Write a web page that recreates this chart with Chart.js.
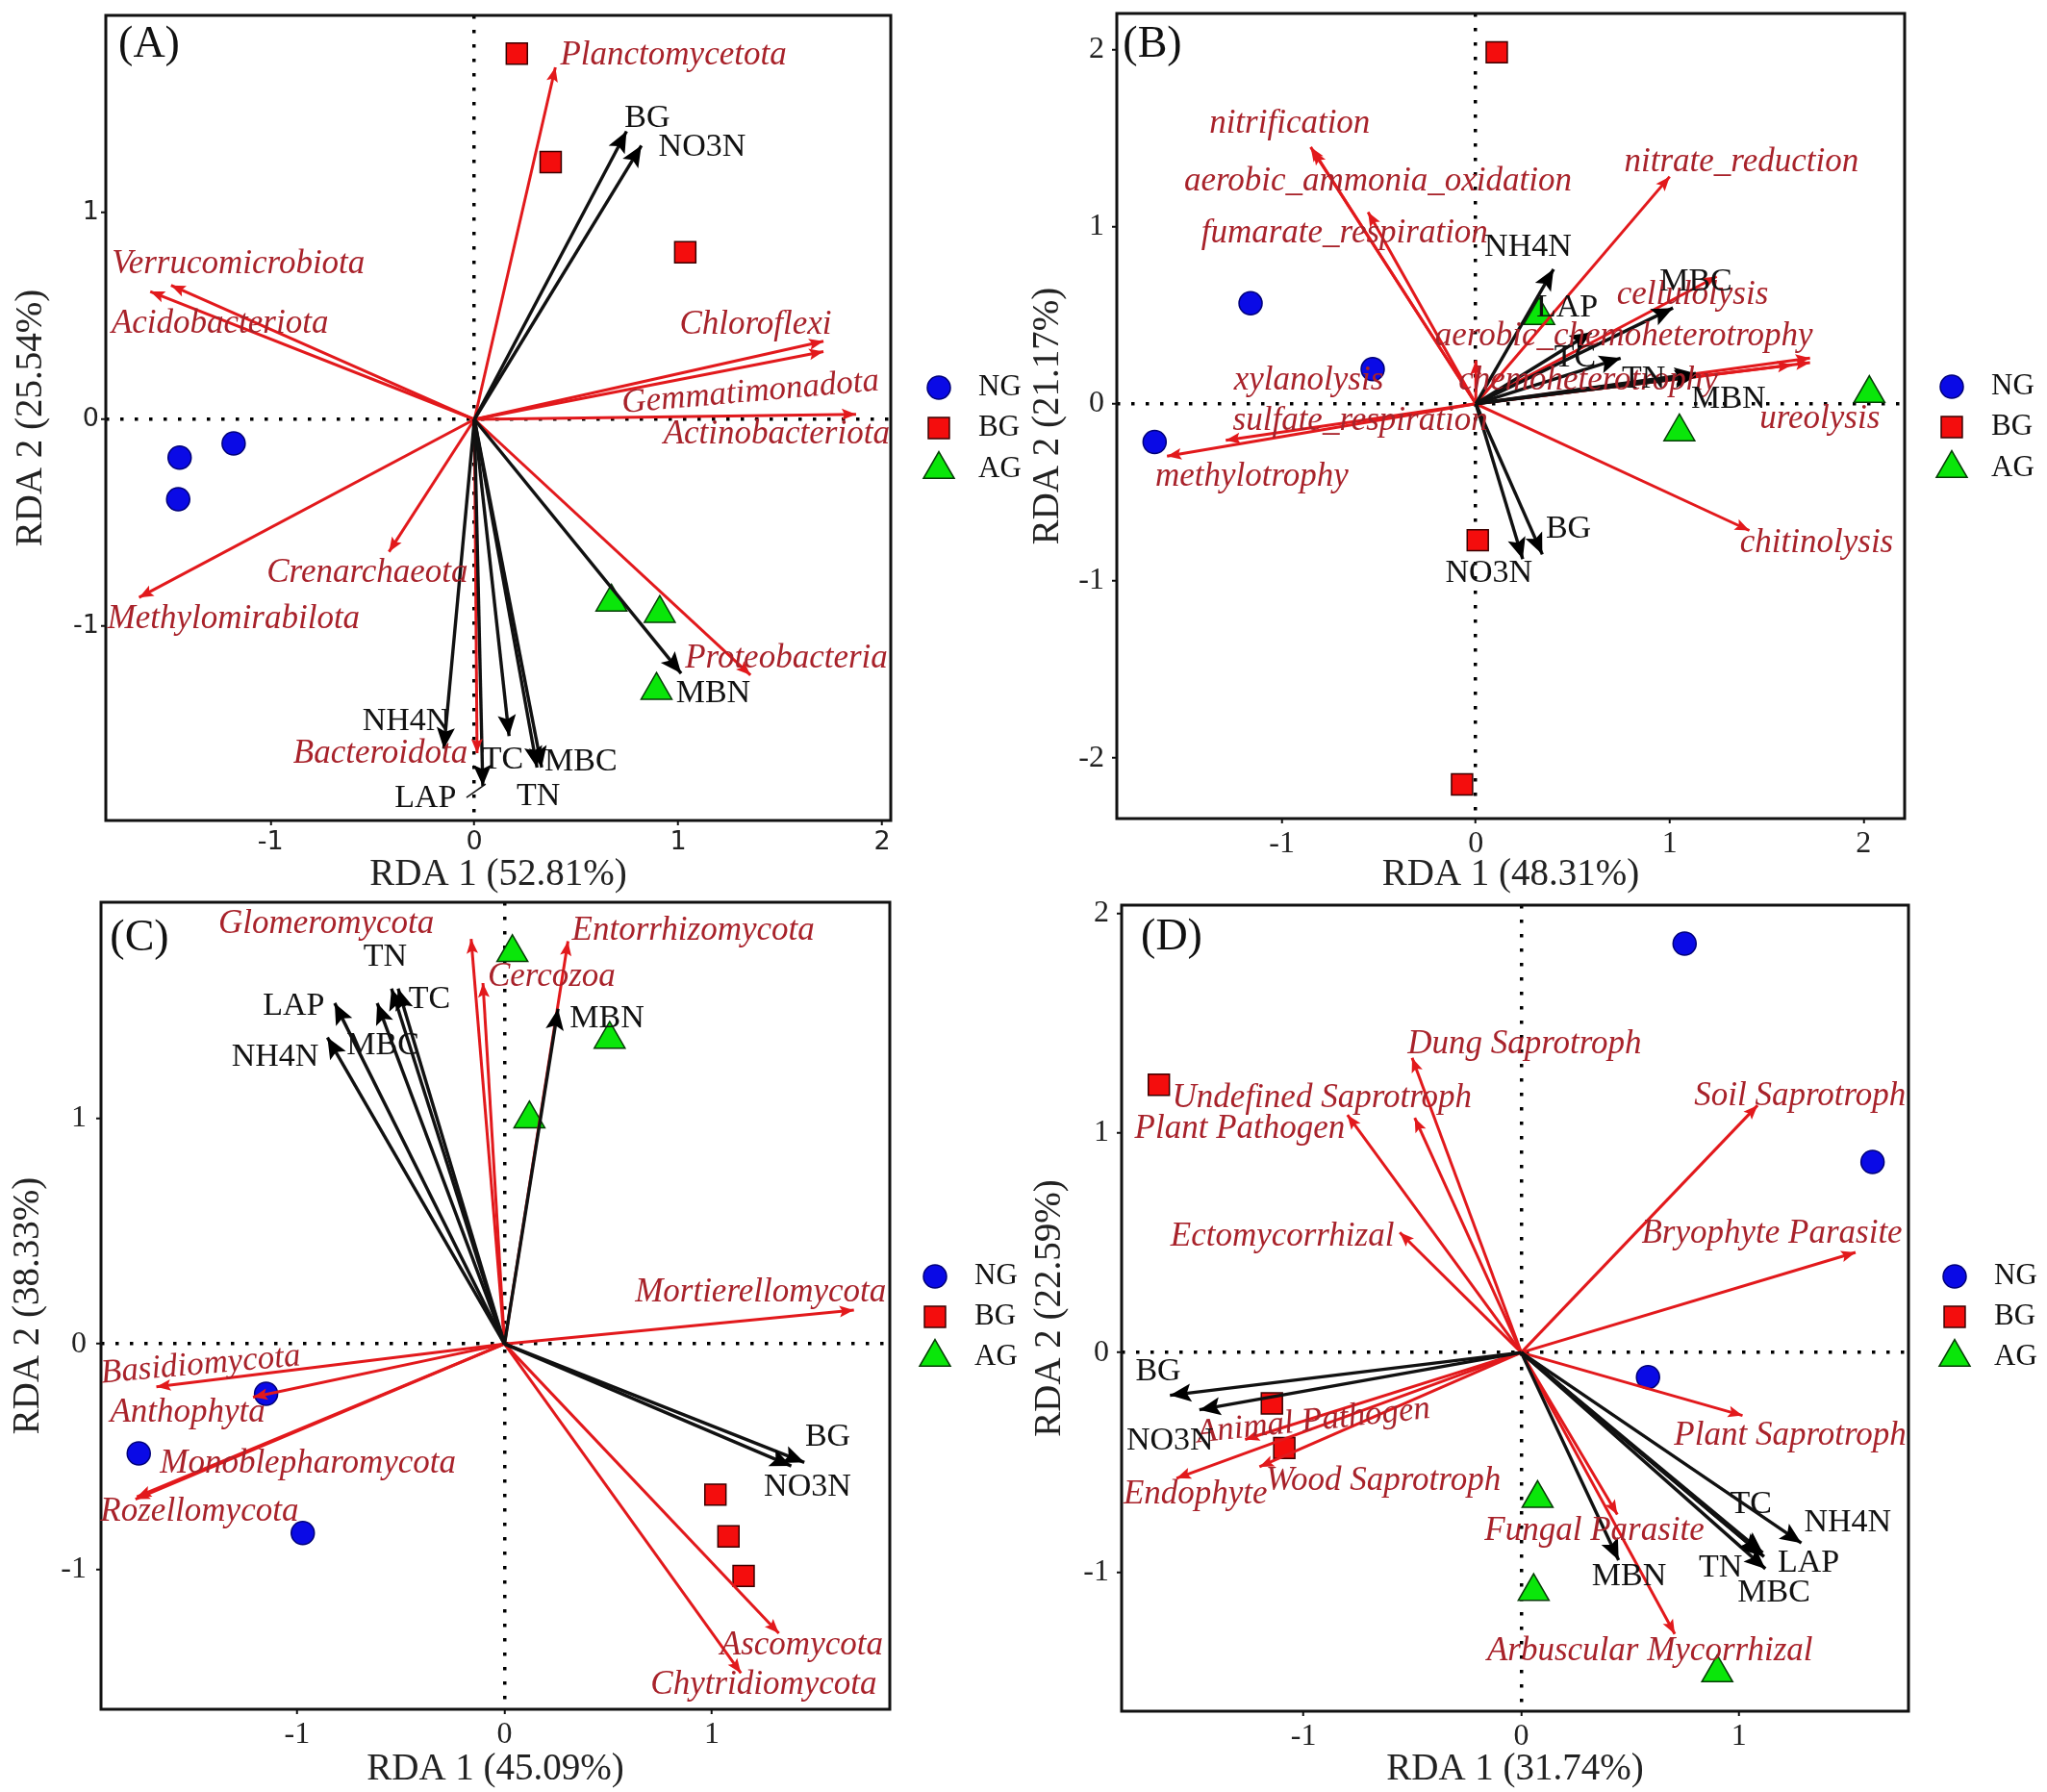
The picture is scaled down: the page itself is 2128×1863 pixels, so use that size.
<!DOCTYPE html>
<html>
<head>
<meta charset="utf-8">
<title>RDA biplots</title>
<script src="https://cdn.jsdelivr.net/npm/chart.js@4/dist/chart.umd.js"></script>
<style>
  html, body { margin: 0; padding: 0; background: #fff; }
  #page { position: relative; width: 2128px; height: 1863px; overflow: hidden; }
  canvas { position: absolute; }
</style>
</head>
<body>
<div id="page">
  <canvas id="panelA" width="1064" height="930" style="left:0;top:0"></canvas>
  <canvas id="panelB" width="1064" height="930" style="left:1064px;top:0"></canvas>
  <canvas id="panelC" width="1064" height="933" style="left:0;top:930px"></canvas>
  <canvas id="panelD" width="1064" height="933" style="left:1064px;top:930px"></canvas>
</div>
<script>
// ===== Shared =====
const groupNames = ["NG", "BG", "AG"];
const envNames = ["BG", "NO3N", "NH4N", "LAP", "TC", "TN", "MBC", "MBN"];

// ===== Panel A: bacterial phyla =====
const ngA = [[-1.446, -0.185], [-1.181, -0.116], [-1.453, -0.386]];
const bgA = [[0.208, 1.768], [0.374, 1.244], [1.034, 0.808]];
const agA = [[0.672, -0.883], [0.909, -0.938], [0.893, -1.31]];
const taxaA = ["Planctomycetota", "Verrucomicrobiota", "Acidobacteriota", "Chloroflexi", "Gemmatimonadota",
  "Actinobacteriota", "Proteobacteria", "Bacteroidota", "Crenarchaeota", "Methylomirabilota"];
const taxaTipsA = [[0.397, 1.702], [-1.488, 0.648], [-1.59, 0.618], [1.712, 0.378], [1.712, 0.328],
  [1.872, 0.025], [1.354, -1.236], [0.013, -1.614], [-0.419, -0.64], [-1.645, -0.861]];
const taxaTextA = [[0.976, 1.76], [-1.158, 0.748], [-1.248, 0.463], [1.379, 0.458], [1.354, 0.13],
  [1.482, -0.074], [1.53, -1.159], [-0.461, -1.619], [-0.525, -0.745], [-1.181, -0.968]];
const envTipsA = [[0.746, 1.393], [0.819, 1.324], [-0.15, -1.592], [0.041, -1.772], [0.17, -1.531],
  [0.307, -1.683], [0.33, -1.683], [1.014, -1.228]];
const envTextA = [[0.848, 1.454], [1.117, 1.316], [-0.336, -1.462], [-0.24, -1.834], [0.138, -1.647],
  [0.314, -1.821], [0.522, -1.655], [1.171, -1.324]];
const leaderA = [[-0.039, -1.828], [0.055, -1.763]];
const xTicksA = [-1, 0, 1, 2];
const yTicksA = [-1, 0, 1];

// ===== Panel B: functional groups =====
const ngB = [[-1.162, 0.567], [-0.532, 0.196], [-1.657, -0.216]];
const bgB = [[0.108, 1.984], [0.01, -0.77], [-0.071, -2.148]];
const agB = [[0.327, 0.499], [1.05, -0.158], [2.03, 0.058]];
const taxaB = ["nitrification", "aerobic_ammonia_oxidation", "fumarate_respiration", "nitrate_reduction",
  "cellulolysis", "aerobic_chemoheterotrophy", "chemoheterotrophy", "ureolysis", "chitinolysis",
  "xylanolysis", "sulfate_respiration", "methylotrophy"];
const taxaTipsB = [[-0.852, 1.449], [-0.84, 1.43], [-0.556, 1.082], [1.0, 1.282], [1.242, 0.718],
  [1.724, 0.258], [1.63, 0.219], [1.724, 0.232], [1.411, -0.715], [0.0, 0.245], [-1.29, -0.206], [-1.593, -0.296]];
const taxaTextB = [[-0.96, 1.581], [-0.505, 1.256], [-0.677, 0.96], [1.37, 1.362], [1.118, 0.612],
  [0.764, 0.38], [0.579, 0.129], [1.774, -0.087], [1.758, -0.786], [-0.862, 0.129], [-0.596, -0.097], [-1.155, -0.415]];
const envTipsB = [[0.343, -0.85], [0.242, -0.876], [0.401, 0.76], [0.596, 0.403], [0.747, 0.258],
  [1.135, 0.171], [1.017, 0.541], [1.135, 0.155]];
const envTextB = [[0.478, -0.709], [0.067, -0.957], [0.269, 0.886], [0.471, 0.541], [0.512, 0.258],
  [0.865, 0.138], [1.135, 0.686], [1.303, 0.026]];
const xTicksB = [-1, 0, 1, 2];
const yTicksB = [-2, -1, 0, 1, 2];

// ===== Panel C: fungal phyla =====
const ngC = [[-1.15, -0.221], [-1.764, -0.485], [-0.973, -0.838]];
const bgC = [[1.017, -0.668], [1.08, -0.853], [1.153, -1.028]];
const agC = [[0.038, 1.734], [0.507, 1.35], [0.12, 0.997]];
const taxaC = ["Glomeromycota", "Cercozoa", "Entorrhizomycota", "Mortierellomycota", "Basidiomycota",
  "Anthophyta", "Monoblepharomycota", "Rozellomycota", "Ascomycota", "Chytridiomycota"];
const taxaTipsC = [[-0.161, 1.794], [-0.104, 1.599], [0.306, 1.784], [1.685, 0.15], [-1.679, -0.19],
  [-1.213, -0.236], [-1.773, -0.678], [-1.78, -0.688], [1.323, -1.282], [1.14, -1.459]];
const taxaTextC = [[-0.86, 1.858], [0.227, 1.624], [0.91, 1.832], [1.235, 0.228], [-1.465, -0.094],
  [-1.528, -0.305], [-0.948, -0.533], [-1.471, -0.744], [1.433, -1.338], [1.25, -1.51]];
const envTipsC = [[1.446, -0.525], [1.383, -0.541], [-0.854, 1.358], [-0.819, 1.51], [-0.513, 1.574],
  [-0.545, 1.574], [-0.614, 1.51], [0.258, 1.485]];
const envTextC = [[1.559, -0.411], [1.461, -0.635], [-1.106, 1.269], [-1.017, 1.497], [-0.362, 1.528],
  [-0.576, 1.713], [-0.586, 1.32], [0.494, 1.442]];
const xTicksC = [-1, 0, 1];
const yTicksC = [-1, 0, 1];

// ===== Panel D: fungal guilds =====
const ngD = [[0.75, 1.863], [1.613, 0.868], [0.582, -0.112]];
const bgD = [[-1.664, 1.22], [-1.145, -0.232], [-1.088, -0.435]];
const agD = [[0.075, -0.665], [0.057, -1.089], [0.9, -1.459]];
const taxaD = ["Dung Saprotroph", "Undefined Saprotroph", "Plant Pathogen", "Soil Saprotroph", "Ectomycorrhizal",
  "Bryophyte Parasite", "Plant Saprotroph", "Animal Pathogen", "Wood Saprotroph", "Endophyte",
  "Fungal Parasite", "Arbuscular Mycorrhizal"];
const taxaTipsD = [[-0.501, 1.342], [-0.489, 1.069], [-0.798, 1.082], [1.085, 1.126], [-0.558, 0.547],
  [1.535, 0.456], [1.016, -0.287], [-1.268, -0.396], [-1.202, -0.521], [-1.583, -0.573], [0.441, -0.738], [0.705, -1.282]];
const taxaTextD = [[0.015, 1.402], [-0.915, 1.16], [-1.292, 1.016], [1.28, 1.168], [-1.097, 0.529],
  [1.151, 0.542], [1.235, -0.378], [-0.954, -0.313], [-0.633, -0.586], [-1.496, -0.646], [0.336, -0.813], [0.591, -1.36]];
const envTipsD = [[-1.613, -0.195], [-1.478, -0.261], [1.286, -0.868], [1.115, -0.93], [1.109, -0.912],
  [1.1, -0.917], [1.121, -0.985], [0.447, -0.946]];
const envTextD = [[-1.667, -0.086], [-1.613, -0.404], [1.499, -0.777], [1.319, -0.959], [1.055, -0.691],
  [0.915, -0.983], [1.16, -1.095], [0.495, -1.022]];
const xTicksD = [-1, 0, 1];
const yTicksD = [-1, 0, 1, 2];

// ===== Styles =====
const serif = "'Liberation Serif', serif";
const arrowRed = "#e2191c";
const labelRed = "#a8222a";
const ink = "#111";
const tiltedLabels = { Gemmatimonadota: -5, Basidiomycota: -5, "Animal Pathogen": -6 };
const groupStyles = [
  { pointStyle: "circle", radius: 12, fill: "#0a0ae6", edge: "#000078", width: 1.5 },
  { pointStyle: "rect", radius: 15.5, fill: "#f40d0d", edge: "#3a0000", width: 1.5 },
  { pointStyle: "triangle", radius: 18.5, fill: "#0ae60a", edge: "#063c06", width: 1.5 }
];

function toPoints(pairs) {
  return pairs.map(p => ({ x: p[0], y: p[1] }));
}

function arrowDataset(tip, color, order) {
  return {
    label: "arrow",
    data: [{ x: 0, y: 0 }, { x: tip[0], y: tip[1] }],
    showLine: true,
    borderColor: color,
    borderWidth: color === ink ? 3.4 : 3,
    pointRadius: 0,
    order: order
  };
}

// arrow heads, frame, text labels and the key sit on top of the datasets
function biplotPlugin(cfg) {
  function head(ctx, x0, y0, x1, y1, len, half, color) {
    const a = Math.atan2(y1 - y0, x1 - x0);
    ctx.save();
    ctx.translate(x1, y1);
    ctx.rotate(a);
    ctx.fillStyle = color;
    ctx.beginPath();
    ctx.moveTo(0, 0);
    ctx.lineTo(-len, -half);
    ctx.lineTo(-len * 0.8, 0);
    ctx.lineTo(-len, half);
    ctx.closePath();
    ctx.fill();
    ctx.restore();
  }
  function text(ctx, str, x, y, font, color, tilt) {
    ctx.save();
    ctx.translate(x, y);
    if (tilt) ctx.rotate(tilt * Math.PI / 180);
    ctx.font = font;
    ctx.fillStyle = color;
    ctx.textAlign = "center";
    ctx.textBaseline = "middle";
    ctx.fillText(str, 0, 0);
    ctx.restore();
  }
  return {
    id: "biplot",
    afterDatasetsDraw(chart) {
      const { ctx, chartArea, scales } = chart;
      const px = v => scales.x.getPixelForValue(v);
      const py = v => scales.y.getPixelForValue(v);
      const ox = px(0), oy = py(0);

      cfg.taxaTips.forEach(t => head(ctx, ox, oy, px(t[0]), py(t[1]), 15, 6, arrowRed));
      cfg.envTips.forEach(t => head(ctx, ox, oy, px(t[0]), py(t[1]), 22, 9.5, "#000"));

      ctx.save();
      ctx.strokeStyle = ink;
      ctx.lineWidth = 3;
      ctx.strokeRect(chartArea.left, chartArea.top, chartArea.right - chartArea.left, chartArea.bottom - chartArea.top);
      ctx.restore();

      cfg.taxa.forEach((name, i) => {
        const at = cfg.taxaText[i];
        text(ctx, name, px(at[0]), py(at[1]), "italic 35px " + serif, labelRed, tiltedLabels[name]);
      });
      envNames.forEach((name, i) => {
        const at = cfg.envText[i];
        text(ctx, name, px(at[0]), py(at[1]), "34px " + serif, "#111");
      });
      text(ctx, cfg.tag, chartArea.left + cfg.tagX, chartArea.top + cfg.tagY, "46px " + serif, "#111");

      // key
      groupNames.forEach((name, i) => {
        const st = groupStyles[i];
        const y = cfg.keyY[i];
        ctx.save();
        ctx.fillStyle = st.fill;
        ctx.strokeStyle = st.edge;
        ctx.lineWidth = st.width;
        Chart.helpers.drawPoint(ctx, { pointStyle: st.pointStyle, radius: st.radius, rotation: 0, borderWidth: st.width }, cfg.keyX, y);
        ctx.font = "31px " + serif;
        ctx.fillStyle = "#111";
        ctx.textAlign = "left";
        ctx.textBaseline = "middle";
        ctx.fillText(name, cfg.keyX + 41, y);
        ctx.restore();
      });
    }
  };
}

function axisOptions(range, ticks, title, tickFont, fit, tickPadding, titlePadding) {
  return {
    type: "linear",
    min: range[0],
    max: range[1],
    afterBuildTicks: s => { s.ticks = ticks.map(v => ({ value: v })); },
    afterFit: s => {
      fit(s);
      // no label overhang, the plot box stays where the layout padding puts it
      s.paddingTop = s.paddingBottom = s.paddingLeft = s.paddingRight = 0;
    },
    grid: {
      color: c => (c.tick && c.tick.value === 0 ? "#000" : "rgba(0,0,0,0)"),
      lineWidth: 3.5,
      tickColor: "#111",
      tickWidth: 2,
      tickLength: 5
    },
    border: { display: false, dash: [3.5, 11.5] },
    ticks: { font: tickFont, color: "#222", padding: tickPadding, maxRotation: 0, autoSkip: false },
    title: { display: true, text: title, color: "#222", font: { family: serif, size: 39 }, padding: titlePadding }
  };
}

function makePanel(cfg) {
  const canvas = document.getElementById(cfg.id);
  const W = canvas.width, H = canvas.height;
  const groups = [cfg.ng, cfg.bg, cfg.ag];
  const datasets = groups.map((pts, i) => ({
    label: groupNames[i],
    data: toPoints(pts),
    pointStyle: groupStyles[i].pointStyle,
    pointRadius: groupStyles[i].radius,
    pointBackgroundColor: groupStyles[i].fill,
    pointBorderColor: groupStyles[i].edge,
    pointBorderWidth: groupStyles[i].width,
    showLine: false,
    order: 3
  }));
  cfg.taxaTips.forEach(t => datasets.push(arrowDataset(t, arrowRed, 2)));
  cfg.envTips.forEach(t => datasets.push(arrowDataset(t, ink, 1)));
  if (cfg.leader) {
    datasets.push({ label: "leader", data: toPoints(cfg.leader), showLine: true, borderColor: ink, borderWidth: 1.5, pointRadius: 0, order: 1 });
  }

  new Chart(canvas, {
    type: "scatter",
    data: { datasets: datasets },
    options: {
      responsive: false,
      animation: false,
      devicePixelRatio: 1,
      layout: { autoPadding: false, padding: { left: 0, top: cfg.box.top, right: W - cfg.box.right, bottom: 0 } },
      plugins: { legend: { display: false }, tooltip: { enabled: false } },
      scales: {
        x: axisOptions(cfg.xRange, cfg.xTicks, cfg.xTitle, cfg.tickFont,
          s => { s.height = H - cfg.box.bottom; }, 2, { top: 0, bottom: cfg.xTitleInset }),
        y: axisOptions(cfg.yRange, cfg.yTicks, cfg.yTitle, cfg.tickFont,
          s => { s.width = cfg.box.left; }, cfg.yTickGap, { top: cfg.yTitleInset, bottom: 0 })
      }
    },
    plugins: [biplotPlugin(cfg)]
  });
}

// ===== Init =====
const serifTicks = { family: serif, size: 32 };
makePanel({
  id: "panelA", tag: "(A)", tagX: 45, tagY: 31,
  box: { left: 110, top: 16, right: 926, bottom: 853 },
  xRange: [-1.808, 2.042], yRange: [-1.939, 1.953],
  xTicks: xTicksA, yTicks: yTicksA,
  xTitle: "RDA 1 (52.81%)", yTitle: "RDA 2 (25.54%)",
  tickFont: { family: "'DejaVu Sans', sans-serif", size: 27 },
  yTitleInset: 9, xTitleInset: -3, yTickGap: 2,
  ng: ngA, bg: bgA, ag: agA,
  taxa: taxaA, taxaTips: taxaTipsA, taxaText: taxaTextA,
  envTips: envTipsA, envText: envTextA, leader: leaderA,
  keyX: 976, keyY: [403, 445, 488]
});
makePanel({
  id: "panelB", tag: "(B)", tagX: 37, tagY: 33,
  box: { left: 97, top: 14, right: 916, bottom: 851 },
  xRange: [-1.852, 2.212], yRange: [-2.341, 2.203],
  xTicks: xTicksB, yTicks: yTicksB,
  xTitle: "RDA 1 (48.31%)", yTitle: "RDA 2 (21.17%)",
  tickFont: serifTicks,
  yTitleInset: 2, xTitleInset: -3, yTickGap: 8,
  ng: ngB, bg: bgB, ag: agB,
  taxa: taxaB, taxaTips: taxaTipsB, taxaText: taxaTextB,
  envTips: envTipsB, envText: envTextB,
  keyX: 965, keyY: [402, 444, 487]
});
makePanel({
  id: "panelC", tag: "(C)", tagX: 40, tagY: 38,
  box: { left: 105, top: 8, right: 925, bottom: 847 },
  xRange: [-1.946, 1.858], yRange: [-1.619, 1.957],
  xTicks: xTicksC, yTicks: yTicksC,
  xTitle: "RDA 1 (45.09%)", yTitle: "RDA 2 (38.33%)",
  tickFont: serifTicks,
  yTitleInset: 6, xTitleInset: 0, yTickGap: 10,
  ng: ngC, bg: bgC, ag: agC,
  taxa: taxaC, taxaTips: taxaTipsC, taxaText: taxaTextC,
  envTips: envTipsC, envText: envTextC,
  keyX: 972, keyY: [397, 439, 481]
});
makePanel({
  id: "panelD", tag: "(D)", tagX: 52, tagY: 34,
  box: { left: 102, top: 11, right: 920, bottom: 849 },
  xRange: [-1.835, 1.778], yRange: [-1.634, 2.038],
  xTicks: xTicksD, yTicks: yTicksD,
  xTitle: "RDA 1 (31.74%)", yTitle: "RDA 2 (22.59%)",
  tickFont: serifTicks,
  yTitleInset: 4, xTitleInset: 0, yTickGap: 8,
  ng: ngD, bg: bgD, ag: agD,
  taxa: taxaD, taxaTips: taxaTipsD, taxaText: taxaTextD,
  envTips: envTipsD, envText: envTextD,
  keyX: 968, keyY: [397, 439, 481]
});
</script>
</body>
</html>
